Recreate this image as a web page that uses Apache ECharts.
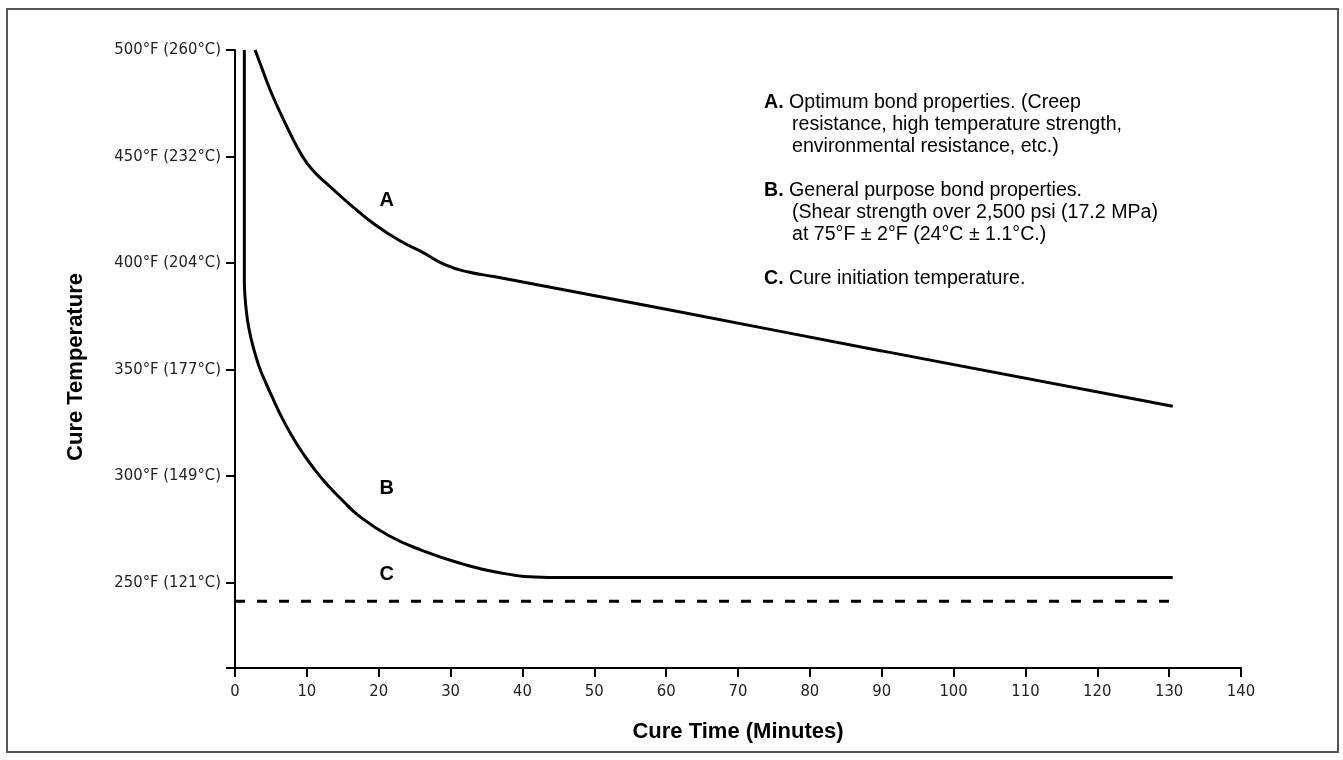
<!DOCTYPE html>
<html>
<head>
<meta charset="utf-8">
<script src="https://cdn.jsdelivr.net/npm/echarts@6/dist/echarts.min.js"></script>
<style>
html,body{margin:0;padding:0;background:#fff;}
#chart{width:1343px;height:760px;}
</style>
</head>
<body>
<div id="chart"></div>
<script>
// ---- data ----
const xTicks = [0, 10, 20, 30, 40, 50, 60, 70, 80, 90, 100, 110, 120, 130, 140];
const yTickValues = [250, 300, 350, 400, 450, 500];
const yTickLabels = ['250°F (121°C)', '300°F (149°C)', '350°F (177°C)', '400°F (204°C)', '450°F (232°C)', '500°F (260°C)'];

// Curve A: optimum bond properties
const timeA = [2.8, 3.5, 5.1, 7.0, 8.8, 10.0, 11.4, 13.0, 16.2, 19.5, 23.2, 26.0, 29.2, 32.5, 36.2, 60, 90, 130.5];
const tempA = [500, 493.7, 479.6, 465.6, 453.5, 447.0, 441.5, 436.6, 427.0, 418.0, 410.0, 405.3, 399.3, 395.8, 393.6, 378.3, 358.8, 332.8];

// Curve B: general purpose bond properties
const timeB = [1.3, 1.3, 1.4, 1.6, 1.9, 2.5, 3.3, 4.2, 5.4, 6.6, 8.0, 9.4, 11.2, 13.1, 15.0, 17.2, 21.3, 26.0, 31.5, 37.0, 42.7, 44.5, 130.5];
const tempB = [500, 392, 384, 377, 370, 361, 352, 344.5, 335.5, 327, 318.5, 311, 302.6, 295, 288.5, 281.5, 272.3, 265.2, 259, 254.6, 252.6, 252.5, 252.5];

// Line C: cure initiation temperature
const timeC = [0, 130.7];
const tempC = [241.3, 241.3];

// Curve letters (label, time, temperature)
const curveLetters = ['A', 'B', 'C'];
const letterTime = [21.1, 21.1, 21.1];
const letterTemp = [429.5, 294.2, 253.8];

// Notes block
const noteKeys = ['A.', '', '', 'B.', '', '', 'C.'];
const noteLines = [
  'Optimum bond properties. (Creep',
  'resistance, high temperature strength,',
  'environmental resistance, etc.)',
  'General purpose bond properties.',
  '(Shear strength over 2,500 psi (17.2 MPa)',
  'at 75°F ± 2°F (24°C ± 1.1°C.)',
  'Cure initiation temperature.'
];
const noteRowIndex = [0, 1, 2, 4, 5, 6, 8];

const xName = 'Cure Time (Minutes)';
const yName = 'Cure Temperature';

// ---- chart ----
const zip = (a, b) => a.map((v, i) => [v, b[i]]);
const narrow = '"Liberation Sans Narrow", "DejaVu Sans Condensed", sans-serif';
const sans = '"Liberation Sans", Arial, Helvetica, sans-serif';

const noteGraphics = noteLines.map((line, i) => ({
  type: 'text',
  left: noteKeys[i] ? 764 : 792,
  top: 92.5 + noteRowIndex[i] * 22,
  style: {
    text: noteKeys[i] ? '{b|' + noteKeys[i] + '} ' + line : line,
    font: '19.6px ' + sans,
    fill: '#000',
    rich: { b: { fontWeight: 'bold', fontSize: 19.6, fontFamily: sans, fill: '#000' } }
  }
}));

const chart = echarts.init(document.getElementById('chart'), null, { renderer: 'canvas' });
chart.setOption({
  animation: false,
  backgroundColor: '#fff',
  grid: { left: 235, right: 102, top: 50, bottom: 92, containLabel: false },
  xAxis: {
    type: 'value', min: 0, max: 140, interval: 10,
    name: xName, nameLocation: 'middle', nameGap: 53,
    nameTextStyle: { fontFamily: sans, fontWeight: 'bold', fontSize: 22, color: '#000' },
    axisLine: { show: true, onZero: false, lineStyle: { color: '#000', width: 2 } },
    axisTick: { show: true, length: 9, lineStyle: { color: '#000', width: 2 } },
    axisLabel: { fontFamily: narrow, fontSize: 16.5, color: '#222', margin: 15 },
    splitLine: { show: false }
  },
  yAxis: {
    type: 'value', min: 210, max: 500,
    name: yName, nameLocation: 'middle', nameGap: 148, nameRotate: 90,
    nameTextStyle: { fontFamily: sans, fontWeight: 'bold', fontSize: 22, color: '#000', padding: [0, 16, 0, 0] },
    axisLine: { show: true, onZero: false, lineStyle: { color: '#000', width: 2 } },
    axisTick: { show: true, length: 9, customValues: [210].concat(yTickValues), lineStyle: { color: '#000', width: 2 } },
    axisLabel: {
      fontFamily: narrow, fontSize: 16.5, color: '#222', margin: 14,
      customValues: yTickValues,
      formatter: v => yTickLabels[yTickValues.indexOf(v)] || ''
    },
    splitLine: { show: false }
  },
  series: [
    { type: 'line', name: 'A', data: zip(timeA, tempA), smooth: 0.5, showSymbol: false,
      lineStyle: { color: '#000', width: 3 } },
    { type: 'line', name: 'B', data: zip(timeB, tempB), smooth: 0.5, showSymbol: false,
      lineStyle: { color: '#000', width: 3 } },
    { type: 'line', name: 'C', data: zip(timeC, tempC), showSymbol: false,
      lineStyle: { color: '#000', width: 3, type: [10, 12] } },
    { type: 'scatter', name: 'letters', symbolSize: 0, silent: true,
      itemStyle: { opacity: 1 },
      data: curveLetters.map((l, i) => ({ value: [letterTime[i], letterTemp[i]], name: l })),
      label: { show: true, position: 'inside', formatter: p => p.name,
        fontFamily: sans, fontWeight: 'bold', fontSize: 20, color: '#000' } }
  ],
  graphic: [
    { type: 'rect', shape: { x: 7, y: 9, width: 1331, height: 743 },
      style: { fill: 'none', stroke: '#555', lineWidth: 2 }, silent: true, z: -1 }
  ].concat(noteGraphics)
});
</script>
</body>
</html>
